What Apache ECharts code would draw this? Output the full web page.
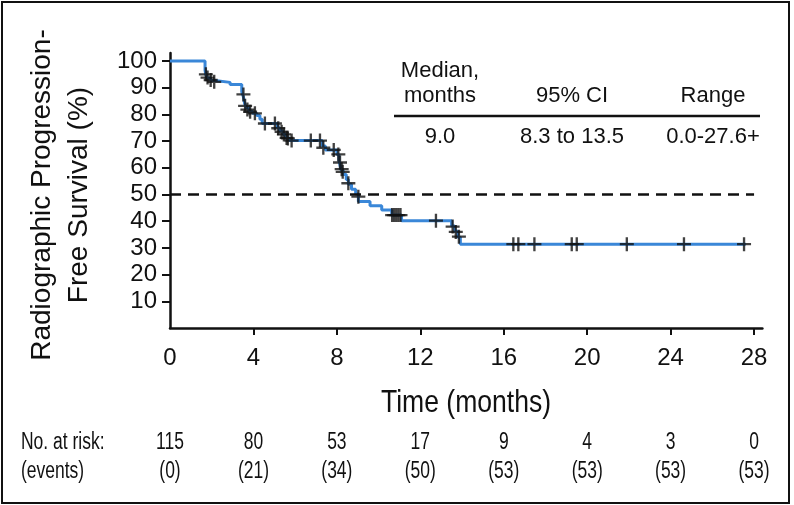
<!DOCTYPE html>
<html>
<head>
<meta charset="utf-8">
<script src="https://cdn.jsdelivr.net/npm/echarts@6/dist/echarts.min.js"></script>
<style>html,body{margin:0;padding:0;background:#fff}#c{width:794px;height:505px}</style>
</head>
<body>
<div id="c"></div>
<script>
// ---- data ----
const eventTimes = [0, 1.68, 1.72, 1.80, 1.95, 2.15, 2.88, 3.44, 3.52, 3.58, 3.66, 3.78, 3.95, 4.16, 4.31, 4.42, 5.15, 5.25, 5.42, 5.55, 5.72, 7.30, 7.45, 8.00, 8.10, 8.15, 8.20, 8.30, 8.45, 8.55, 8.70, 8.90, 9.03, 9.59, 10.15, 10.63, 11.10, 13.50, 13.65, 13.80, 13.92, 27.6];
const eventSurv  = [100, 96.5, 94.8, 93.6, 92.7, 92.0, 91.2, 88.5, 86.5, 84.0, 82.5, 81.2, 80.4, 79.6, 78.2, 76.6, 75.0, 73.8, 72.5, 71.2, 70.2, 68.2, 66.7, 65.0, 63.0, 61.0, 59.2, 57.5, 55.6, 53.8, 52.0, 50.2, 47.4, 45.8, 44.2, 42.3, 40.2, 38.2, 36.2, 34.0, 31.4, 31.4];
const censorTimes = [1.72, 1.80, 1.95, 2.12, 3.52, 3.60, 3.71, 3.84, 4.07, 4.55, 5.03, 5.19, 5.35, 5.46, 5.59, 5.65, 5.83, 6.75, 7.19, 7.35, 7.85, 8.07, 8.15, 8.23, 8.28, 8.55, 9.03, 10.65, 10.75, 10.85, 10.95, 11.05, 12.75, 13.55, 13.70, 13.85, 16.46, 16.70, 17.47, 19.26, 19.50, 21.90, 24.64, 27.52];
const censorSurv  = [95.0, 93.8, 92.9, 92.2, 87.5, 83.2, 81.8, 81.0, 80.4, 76.6, 76.6, 74.8, 73.5, 72.5, 71.2, 71.0, 70.2, 70.2, 70.2, 67.5, 66.7, 65.0, 62.0, 59.5, 58.5, 54.2, 49.2, 42.3, 42.3, 42.3, 42.3, 42.3, 40.2, 38.0, 36.0, 34.2, 31.4, 31.4, 31.4, 31.4, 31.4, 31.4, 31.4, 31.4];
const xTicks = [0, 4, 8, 12, 16, 20, 24, 28];
const yTicks = [10, 20, 30, 40, 50, 60, 70, 80, 90, 100];
const atRisk = ['115', '80', '53', '17', '9', '4', '3', '0'];
const events = ['(0)', '(21)', '(34)', '(50)', '(53)', '(53)', '(53)', '(53)'];
const medianLine = 50;
const tableHeader1 = ['Median,', '', ''];
const tableHeader2 = ['months', '95% CI', 'Range'];
const tableRow = ['9.0', '8.3 to 13.5', '0.0-27.6+'];
const yTitle = ['Radiographic Progression-', 'Free Survival (%)'];
const xTitle = 'Time (months)';
const riskLabels = ['No. at risk:', '(events)'];

// ---- chart ----
const chart = echarts.init(document.getElementById('c'), null, {renderer: 'canvas'});
const SANS = '"Liberation Sans", Arial, sans-serif';
const plus = 'path://M5,0H7V5H12V7H7V12H5V7H0V5H5Z';
const INK = '#111';

const colX = [440, 572, 713];
const tableGraphics = [];
const tFont = '22px ' + SANS;
tableHeader1.forEach((t, i) => t && tableGraphics.push({type: 'text', x: colX[i], y: 71, style: {text: t, font: tFont, fill: INK, align: 'center', verticalAlign: 'middle'}}));
tableHeader2.forEach((t, i) => tableGraphics.push({type: 'text', x: colX[i], y: 96, style: {text: t, font: tFont, fill: INK, align: 'center', verticalAlign: 'middle'}}));
tableRow.forEach((t, i) => tableGraphics.push({type: 'text', x: colX[i], y: 137, style: {text: t, font: tFont, fill: INK, align: 'center', verticalAlign: 'middle'}}));

const rFont = '23px ' + SANS;
const baseGraphics = [
  {type: 'rect', shape: {x: 2, y: 2, width: 787, height: 501}, style: {fill: 'none', stroke: INK, lineWidth: 2}},
  {type: 'text', x: 42, y: 195, rotation: Math.PI / 2, style: {text: yTitle[0], font: '28px ' + SANS, fill: INK, align: 'center', verticalAlign: 'middle'}},
  {type: 'text', x: 79, y: 195, rotation: Math.PI / 2, style: {text: yTitle[1], font: '28px ' + SANS, fill: INK, align: 'center', verticalAlign: 'middle'}},
  {type: 'text', x: 466, y: 403, scaleX: 0.83, style: {text: xTitle, font: '32px ' + SANS, fill: INK, align: 'center', verticalAlign: 'middle'}},
  {type: 'text', x: 21, y: 443, scaleX: 0.76, style: {text: riskLabels[0], font: rFont, fill: INK, align: 'left', verticalAlign: 'middle'}},
  {type: 'text', x: 21, y: 472, scaleX: 0.76, style: {text: riskLabels[1], font: rFont, fill: INK, align: 'left', verticalAlign: 'middle'}},
  {type: 'line', shape: {x1: 394, y1: 116, x2: 760, y2: 116}, style: {stroke: INK, lineWidth: 2.5}}
].concat(tableGraphics);

chart.setOption({
  animation: false,
  backgroundColor: '#fff',
  grid: {left: 170, top: 53, right: 31.6, bottom: 177, containLabel: false},
  xAxis: {
    type: 'value', min: 0, max: 28.4, interval: 4,
    axisLine: {show: true, onZero: false, lineStyle: {color: INK, width: 2.5}},
    axisTick: {show: true, customValues: xTicks.filter(v => v > 0), length: 7, lineStyle: {color: INK, width: 2}},
    axisLabel: {customValues: xTicks, margin: 18, color: INK, fontFamily: SANS, fontSize: 24,
      formatter: v => xTicks.indexOf(v) >= 0 ? String(v) : ''},
    splitLine: {show: false}
  },
  yAxis: {
    type: 'value', min: 0, max: 103, interval: 10,
    axisLine: {show: true, onZero: false, lineStyle: {color: INK, width: 2.5}},
    axisTick: {show: true, customValues: yTicks, length: 8, lineStyle: {color: INK, width: 2}},
    axisLabel: {customValues: yTicks, margin: 13, color: INK, fontFamily: SANS, fontSize: 24,
      formatter: v => yTicks.indexOf(v) >= 0 ? String(v) : ''},
    splitLine: {show: false}
  },
  series: [{
    type: 'line', step: 'end', showSymbol: false, symbol: 'none',
    data: eventTimes.map((t, i) => [t, eventSurv[i]]),
    lineStyle: {color: '#3a87d8', width: 3},
    z: 3,
    markLine: {
      silent: true, symbol: 'none', label: {show: false},
      lineStyle: {color: INK, width: 2.5, type: [11, 7]},
      data: [[{coord: [0, medianLine]}, {coord: [28, medianLine]}]]
    }
  }, {
    type: 'scatter', symbol: plus, symbolSize: 14,
    itemStyle: {color: INK},
    data: censorTimes.map((t, i) => [t, censorSurv[i]]),
    z: 4
  }],
  graphic: baseGraphics
});

// risk table numbers, positioned through the x axis scale
const riskGraphics = [];
xTicks.forEach((t, i) => {
  const px = chart.convertToPixel({xAxisIndex: 0}, t);
  riskGraphics.push({type: 'text', x: px, y: 443, scaleX: 0.76, style: {text: atRisk[i], font: rFont, fill: INK, align: 'center', verticalAlign: 'middle'}});
  riskGraphics.push({type: 'text', x: px, y: 472, scaleX: 0.76, style: {text: events[i], font: rFont, fill: INK, align: 'center', verticalAlign: 'middle'}});
});
chart.setOption({graphic: baseGraphics.concat(riskGraphics)}, {replaceMerge: ['graphic']});
</script>
</body>
</html>
